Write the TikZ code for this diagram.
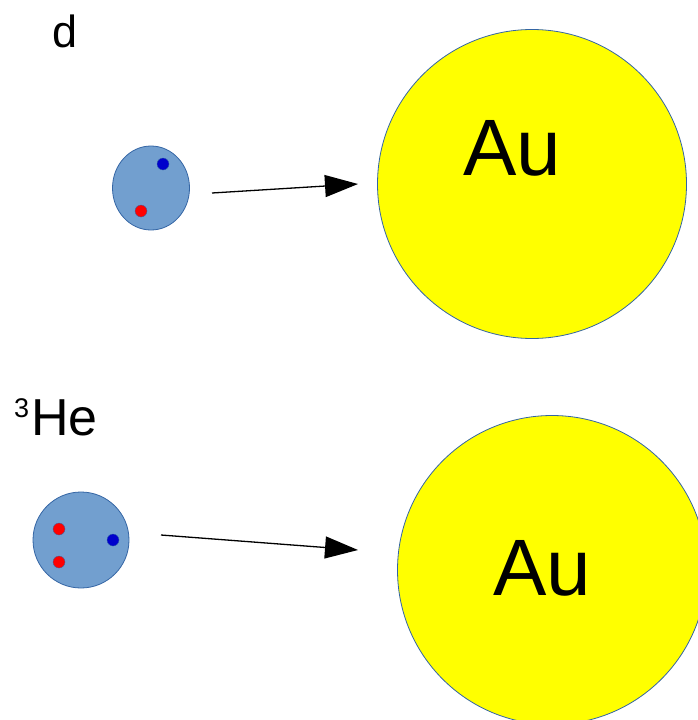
\documentclass[tikz,border=0pt]{standalone}
\usepackage{fontspec}
\setmainfont{Liberation Sans}
\usetikzlibrary{arrows.meta,shapes.geometric}
\definecolor{nucfill}{HTML}{729FCF}
\definecolor{nucline}{HTML}{3465A4}
\definecolor{protonc}{HTML}{FF0000}
\definecolor{neutronc}{HTML}{0000CC}
\definecolor{goldc}{HTML}{FFFF00}
\tikzset{
  nucleus/.style={draw=nucline,fill=nucfill,line width=0.8pt,inner sep=0pt},
  proton/.style={circle,fill=protonc,draw=nucline,line width=0.3pt,minimum size=12pt,inner sep=0pt},
  neutron/.style={circle,fill=neutronc,draw=nucline,line width=0.3pt,minimum size=12pt,inner sep=0pt},
  gold/.style={circle,draw=nucline,fill=goldc,line width=0.8pt,minimum size=309pt,inner sep=0pt},
  beam/.style={line width=1.3pt,-{Triangle[length=33pt,width=22pt]}},
  bigtext/.style={font=\fontsize{80}{80}\selectfont,inner sep=0pt,anchor=base west},
  label/.style={font=\fontsize{45}{45}\selectfont,inner sep=0pt,anchor=base west}
}
\begin{document}
\begin{tikzpicture}[x=1pt,y=-1pt]
\useasboundingbox (0,0) rectangle (698,720);
\clip (0,0) rectangle (698,720);
% deuteron
\node[nucleus,ellipse,minimum width=77pt,minimum height=84pt] (deut) at (151,188) {};
\node[neutron] (dn) at (163,164) {};
\node[proton] (dp) at (141,211) {};
\node[label] (dlab) at (52,47) {d};
% gold 1
\node[gold] (au1) at (532,184) {};
\node[bigtext] (au1t) at (463,175) {Au};
\coordinate (a1s) at (212,193);
\coordinate (a1e) at (358,184);
\draw[beam] (a1s) -- (a1e);
% helium-3
\node[nucleus,circle,minimum size=96pt] (he) at (81,540) {};
\node[proton] (hp1) at (59,529) {};
\node[proton] (hp2) at (59,562) {};
\node[neutron] (hn) at (113,540) {};
\node[label,font=\fontsize{52}{52}\selectfont] (helab) at (14,435) {{\fontsize{27}{27}\selectfont\raisebox{18pt}{3}}\kern2pt He};
% gold 2
\node[gold] (au2) at (552,570) {};
\node[bigtext] (au2t) at (493,595) {Au};
\coordinate (a2s) at (161,535);
\coordinate (a2e) at (358,550);
\draw[beam] (a2s) -- (a2e);
\end{tikzpicture}
\end{document}
